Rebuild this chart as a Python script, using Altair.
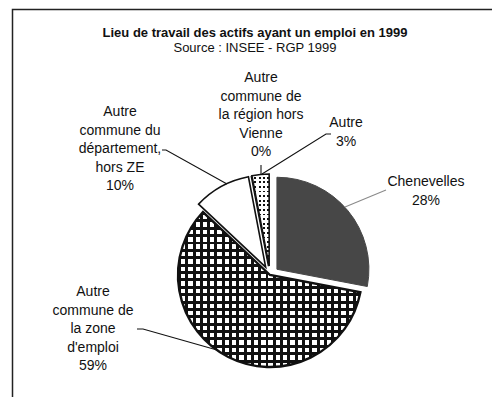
import math
import altair as alt
import pandas as pd

# ---------------- data ----------------
title = "Lieu de travail des actifs ayant un emploi en 1999"
subtitle = "Source : INSEE - RGP 1999"
categories = [
    "Chenevelles",
    "Autre commune de la zone d'emploi",
    "Autre commune du département, hors ZE",
    "Autre commune de la région hors Vienne",
    "Autre",
]
label_lines = [
    "Chenevelles",
    "Autre\ncommune de\nla zone\nd'emploi",
    "Autre\ncommune du\ndépartement,\nhors ZE",
    "Autre\ncommune de\nla région hors\nVienne",
    "Autre",
]
shares = [28, 59, 10, 0, 3]

# ---------------- layout (view pixels) ----------------
W, H = 484, 389
CX, CY, R = 262, 267, 92
EXPLODE = [9, 0, 9, 9, 9]
# position of the first line of each label
LABEL_POS = [(418, 174), (85, 284), (112, 104), (253, 70), (338, 115)]
LEADERS = [
    [(378, 182), (337, 199)],
    [(129, 321), (135, 321), (209, 342)],
    [(154, 142), (158, 142), (219, 176)],
    [(253, 157), (253, 167)],
    [(323, 126), (318, 126), (254, 166)],
]
LEADER_COLORS = ["#8a8a8a", "#111111", "#111111", "#111111", "#111111"]
FRAME = [[(4.5, 397), (4.5, 1.5), (489, 1.5)]]
FONT = "Liberation Sans"

# ---------------- derived table ----------------
rows = []
acc = 0.0
for k, (c, s) in enumerate(zip(categories, shares)):
    t0, t1 = acc, acc + s
    acc = t1
    mid = (t0 + t1) / 2 / 100 * 2 * math.pi
    rows.append(dict(k=k, cat=c, share=s, t0=t0, t1=t1,
                     cx=CX + EXPLODE[k] * math.sin(mid),
                     cy=CY - EXPLODE[k] * math.cos(mid),
                     label=label_lines[k] + "\n" + f"{s}%",
                     lx=LABEL_POS[k][0], ly=LABEL_POS[k][1]))
df = pd.DataFrame(rows)


def bbox(k):
    r = rows[k]
    pts = [(r["cx"], r["cy"])]
    steps = 200
    for i in range(steps + 1):
        a = (r["t0"] + (r["t1"] - r["t0"]) * i / steps) / 100 * 2 * math.pi
        pts.append((r["cx"] + R * math.sin(a), r["cy"] - R * math.cos(a)))
    xs = [p[0] for p in pts]
    ys = [p[1] for p in pts]
    return max(xs) - min(xs), max(ys) - min(ys)


def stripes(n, frac, line_color, gap_color, vertical_lines):
    stops = []
    for i in range(n):
        a = round(i / n, 5)
        b = round((i + frac) / n, 5)
        e = round((i + 1) / n, 5)
        stops += [
            alt.GradientStop(color=line_color, offset=a),
            alt.GradientStop(color=line_color, offset=b),
            alt.GradientStop(color=gap_color, offset=b),
            alt.GradientStop(color=gap_color, offset=e),
        ]
    if vertical_lines:
        return alt.LinearGradient(gradient="linear", stops=stops, x1=0, y1=0, x2=1, y2=0)
    return alt.LinearGradient(gradient="linear", stops=stops, x1=0, y1=0, x2=0, y2=1)


theta_scale = alt.Scale(domain=[0, 100], range=[0, 2 * math.pi])
CLEAR = "rgba(255,255,255,0)"


def arc(k, **props):
    return alt.Chart(df).mark_arc(outerRadius=R, **props).encode(
        theta=alt.Theta("t0:Q", scale=theta_scale, stack=False),
        theta2=alt.Theta2("t1:Q"),
        x=alt.X("cx:Q", scale=None),
        y=alt.Y("cy:Q", scale=None),
    ).transform_filter(alt.datum.k == k)


layers = []
# Chenevelles: dark grey
layers.append(arc(0, fill="#474747", stroke="#474747", strokeWidth=1))
# zone d'emploi: grid pattern
gw, gh = bbox(1)
P = 7.3
layers.append(arc(1, fill="white", strokeOpacity=0))
layers.append(arc(1, fill=stripes(max(1, round(gw / P)), 0.4, "#111111", CLEAR, True), strokeOpacity=0))
layers.append(arc(1, fill=stripes(max(1, round(gh / P)), 0.4, "#111111", CLEAR, False), strokeOpacity=0))
layers.append(arc(1, fillOpacity=0, stroke="#111111", strokeWidth=2.4))
# département: white
layers.append(arc(2, fill="white", stroke="#111111", strokeWidth=1.6))
# région hors Vienne (0 %)
layers.append(arc(3, fill="white", stroke="#111111", strokeWidth=1.2))
# Autre: dotted pattern
dw, dh = bbox(4)
D = 4.5
layers.append(arc(4, fill="#111111", strokeOpacity=0))
layers.append(arc(4, fill=stripes(max(1, round(dw / D)), 0.6, "white", CLEAR, True), strokeOpacity=0))
layers.append(arc(4, fill=stripes(max(1, round(dh / D)), 0.6, "white", CLEAR, False), strokeOpacity=0))
layers.append(arc(4, fillOpacity=0, stroke="#111111", strokeWidth=1.6))

# leader lines
seg_rows = []
for i, pts in enumerate(LEADERS):
    for j, (x, y) in enumerate(pts):
        seg_rows.append(dict(g=i, o=j, x=x, y=y, col=LEADER_COLORS[i]))
seg = pd.DataFrame(seg_rows)
leaders = alt.Chart(seg).mark_line(strokeWidth=1.1).encode(
    x=alt.X("x:Q", scale=None),
    y=alt.Y("y:Q", scale=None),
    detail="g:N",
    order="o:Q",
    color=alt.Color("col:N", scale=None),
)

frame_rows = []
for i, pts in enumerate(FRAME):
    for j, (x, y) in enumerate(pts):
        frame_rows.append(dict(g=i, o=j, x=x, y=y))
frame = alt.Chart(pd.DataFrame(frame_rows)).mark_line(strokeWidth=1.5, color="#222222").encode(
    x=alt.X("x:Q", scale=None),
    y=alt.Y("y:Q", scale=None),
    detail="g:N",
    order="o:Q",
)

labels = alt.Chart(df).mark_text(
    font=FONT, fontSize=14, lineBreak="\n", lineHeight=18.5,
    align="center", baseline="middle", color="#111111",
).encode(
    x=alt.X("lx:Q", scale=None),
    y=alt.Y("ly:Q", scale=None),
    text="label:N",
)

heads = pd.DataFrame({"t": [title, subtitle], "x": [247, 247], "y": [25, 40]})
head_t = alt.Chart(heads.iloc[[0]]).mark_text(
    font=FONT, fontSize=13, fontWeight="bold", align="center", baseline="middle", color="#111111"
).encode(x=alt.X("x:Q", scale=None), y=alt.Y("y:Q", scale=None), text="t:N")
head_s = alt.Chart(heads.iloc[[1]]).mark_text(
    font=FONT, fontSize=13, align="center", baseline="middle", color="#111111"
).encode(x=alt.X("x:Q", scale=None), y=alt.Y("y:Q", scale=None), text="t:N")

chart = alt.layer(frame, *layers, leaders, labels, head_t, head_s).properties(
    width=W, height=H, padding=0, autosize=alt.AutoSizeParams(type="none"),
    background="white",
).configure_view(stroke=None)

chart.save("out.html", embed_options={"renderer": "svg", "actions": False})
